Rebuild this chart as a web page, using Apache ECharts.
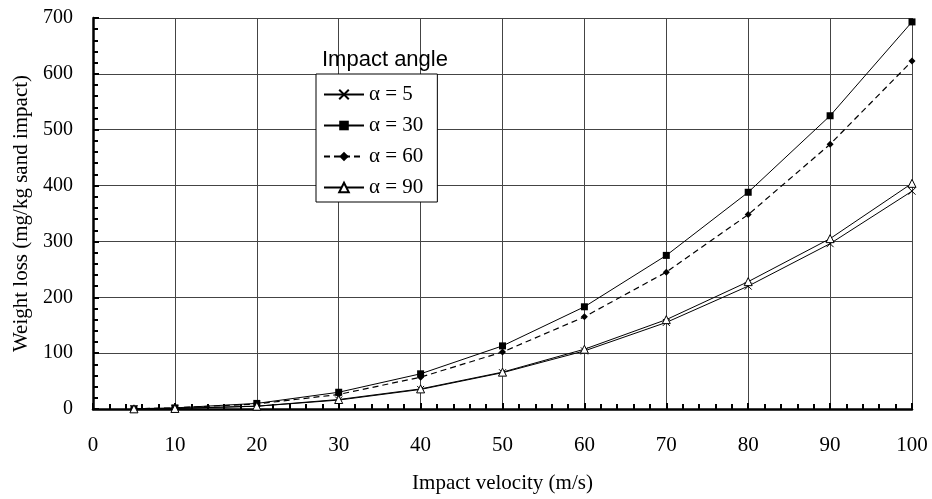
<!DOCTYPE html>
<html>
<head>
<meta charset="utf-8">
<script src="https://cdn.jsdelivr.net/npm/echarts@6/dist/echarts.min.js"></script>
<style>html,body{margin:0;padding:0;background:#fff}#c{width:932px;height:499px}</style>
</head>
<body>
<div id="c"></div>
<script>
var velocity = [5, 10, 20, 30, 40, 50, 60, 70, 80, 90, 100];
var alpha5  = [0.3, 1, 5, 16, 35, 65, 104, 155, 220, 296, 390];
var alpha30 = [0.5, 2, 10, 30, 63, 113, 183, 275, 388, 525, 693];
var alpha60 = [0.5, 2, 9, 26, 57, 102, 165, 245, 348, 474, 623];
var alpha90 = [0.3, 1, 5, 17, 36, 66, 107, 160, 228, 305, 404];
var seriesNames = ['α = 5', 'α = 30', 'α = 60', 'α = 90'];

function pairs(vals){ return velocity.map(function(v,i){ return [v, vals[i]]; }); }

var serif = 'Liberation Serif, Times New Roman, serif';
var chart = echarts.init(document.getElementById('c'), null, {renderer:'canvas'});
chart.setOption({
  animation: false,
  backgroundColor: '#fff',
  title: {
    text: 'Impact angle', left: 317, top: 44,
    textStyle: {fontFamily: 'Liberation Sans, Arial, sans-serif', fontSize: 22, fontWeight: 'normal', color: '#000'}
  },
  legend: {
    orient: 'vertical', left: 316, top: 74,
    backgroundColor: '#fff', borderColor: '#000', borderWidth: 1,
    padding: [10, 14, 4, 7], itemGap: 10, itemWidth: 40, itemHeight: 12,
    textStyle: {fontFamily: serif, fontSize: 21, color: '#000'},
    data: seriesNames
  },
  grid: {left: 93, right: 20, top: 18, bottom: 87, containLabel: false},
  xAxis: {
    type: 'value', min: 0, max: 100, interval: 10,
    name: 'Impact velocity (m/s)', nameLocation: 'middle', nameGap: 64,
    nameTextStyle: {fontFamily: serif, fontSize: 21, color: '#000'},
    axisLine: {show: true, onZero: false, lineStyle: {color: '#000', width: 2.5}},
    axisTick: {show: true, inside: true, length: 6, lineStyle: {color: '#000', width: 2}},
    minorTick: {show: true, splitNumber: 5, length: 5, lineStyle: {color: '#000', width: 2}},
    axisLabel: {fontFamily: serif, fontSize: 21, color: '#000', margin: 26},
    splitLine: {show: true, lineStyle: {color: '#444', width: 1}}
  },
  yAxis: {
    type: 'value', min: 0, max: 700, interval: 100,
    name: 'Weight loss (mg/kg sand impact)', nameLocation: 'middle', nameGap: 56, nameRotate: 90,
    nameTextStyle: {fontFamily: serif, fontSize: 21, color: '#000'},
    axisLine: {show: true, onZero: false, lineStyle: {color: '#000', width: 2.5}},
    axisTick: {show: true, inside: true, length: 6, lineStyle: {color: '#000', width: 2}},
    minorTick: {show: true, splitNumber: 5, length: 5, lineStyle: {color: '#000', width: 2}},
    axisLabel: {fontFamily: serif, fontSize: 20, color: '#000', margin: 20},
    splitLine: {show: true, lineStyle: {color: '#444', width: 1}}
  },
  series: [
    {
      name: seriesNames[0], type: 'line', data: pairs(alpha5),
      symbol: 'path://M0,0L10,10M10,0L0,10', symbolSize: 7,
      itemStyle: {color: '#000', borderColor: '#000', borderWidth: 1},
      lineStyle: {color: '#000', width: 1}, z: 3
    },
    {
      name: seriesNames[1], type: 'line', data: pairs(alpha30),
      symbol: 'rect', symbolSize: 7,
      itemStyle: {color: '#000'},
      lineStyle: {color: '#000', width: 1}, z: 3
    },
    {
      name: seriesNames[2], type: 'line', data: pairs(alpha60),
      symbol: 'diamond', symbolSize: 7,
      itemStyle: {color: '#000'},
      lineStyle: {color: '#000', width: 1.2, type: [6, 4]}, z: 3
    },
    {
      name: seriesNames[3], type: 'line', data: pairs(alpha90),
      symbol: 'triangle', symbolSize: 8,
      itemStyle: {color: '#fff', borderColor: '#000', borderWidth: 1},
      lineStyle: {color: '#000', width: 1}, z: 3
    }
  ]
});
</script>
</body>
</html>
